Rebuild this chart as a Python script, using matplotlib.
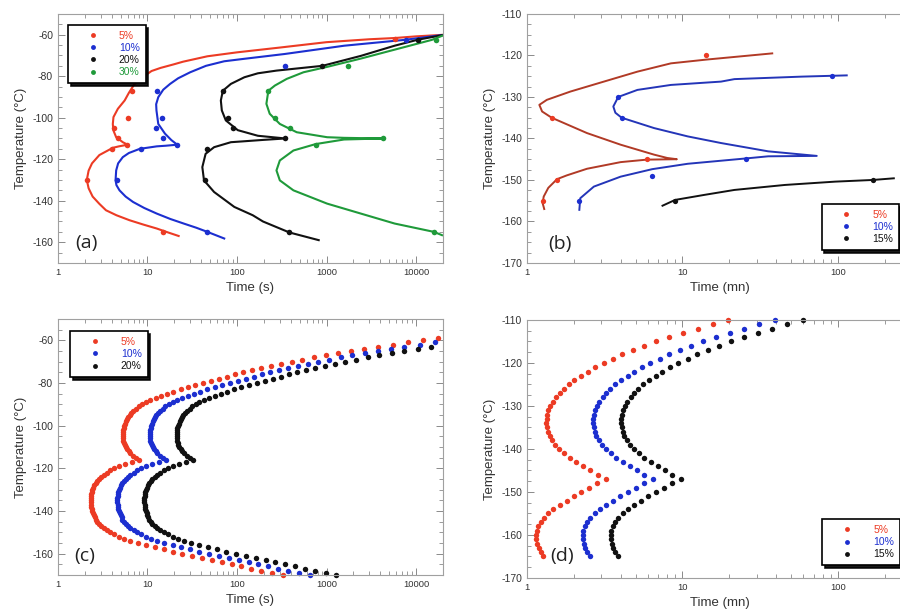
import numpy as np
import matplotlib.pyplot as plt
from matplotlib.ticker import MultipleLocator, LogLocator, NullFormatter, FixedLocator, FixedFormatter
from matplotlib.lines import Line2D

plt.rcParams['font.family'] = ['Liberation Sans', 'DejaVu Sans']
plt.rcParams['axes.unicode_minus'] = False

RED = '#ec3b24'
BLUE = '#1c2fd0'
BLACK = '#111111'
GREEN = '#1f9a3a'
RED_LINE_B = '#b13a26'
BLUE_LINE_B = '#2435b8'

# ---------- (a) measured points, time (s) / temperature (C) ----------
a_red_t = [6.8, 6.07, 4.25, 4.7, 5.96, 4.03, 2.12, 14.8, 5770]
a_red_T = [-87, -100, -105, -110, -113, -115, -130, -155, -62]
a_blue_t = [12.8, 14.4, 12.4, 15.0, 21.5, 8.4, 4.6, 45.8, 344, 7700]
a_blue_T = [-87, -100, -105, -110, -113, -115, -130, -155, -75, -62.5]
a_black_t = [69.5, 79, 91, 347, 46, 44, 385, 901, 10500]
a_black_T = [-87, -100, -105, -110, -115, -130, -155, -75, -62.5]
a_green_t = [224, 265, 387, 4260, 757, 1755, 15800, 16800]
a_green_T = [-87, -100, -105, -110, -113, -75, -155, -62.5]

# ---------- (a) fitted curves ----------
a_red_fit_t = [21000, 10000, 5770, 3000, 1000, 300, 100, 46.7, 25, 19.6, 14, 11.1, 8.5, 7.1, 6.2,
               5.56, 4.67, 4.17, 4.1, 4.15, 4.47, 5.3, 6.0, 4.8, 4.1, 2.9, 2.4, 2.2, 2.1, 2.2,
               2.44, 2.9, 3.44, 4.5, 6.3, 9, 12.7, 17, 22.3]
a_red_fit_T = [-60, -60.8, -61.6, -62.2, -63.6, -66.2, -68.5, -70.4, -73, -74.3, -76, -77.5, -81, -84, -88,
               -91.7, -95.7, -99.7, -103, -106, -109.4, -111.8, -113, -113.8, -114.5, -118, -122, -125.5, -130, -134,
               -138, -141.5, -144.6, -147, -149.4, -151.5, -153.4, -155.3, -157]
a_blue_fit_t = [21000, 7400, 1580, 340, 116, 72, 45, 30, 22, 17.9, 15, 13.2, 12.5, 12.6, 13.2, 15.7,
                18.5, 21.5, 16, 12.7, 8.2, 6.2, 5.3, 4.7, 4.47, 4.4, 4.5, 4.87, 5.7, 6.9, 9.2, 12.7,
                18, 25.4, 35, 46.6, 72]
a_blue_fit_T = [-60, -62.5, -65.3, -69.3, -71.7, -72.8, -75, -78.1, -81, -83.7, -86.5, -90.1, -93.5, -96.5, -103, -107.7,
                -110.8, -113, -113.5, -113.8, -115, -117, -119, -122, -125.4, -130.2, -132.5, -135, -138, -140.6, -143.5, -146.2,
                -148.8, -151, -153, -155, -158.2]
a_black_fit_t = [21000, 10500, 5770, 2420, 901, 276, 171, 121, 85.5, 69.5, 66, 67.7, 75, 102, 171, 347,
                 195, 116, 85.5, 55.5, 44.6, 41, 42.8, 55.5, 93.4, 150, 195, 385, 818]
a_black_fit_T = [-60, -62.4, -65.3, -70.2, -75, -77.3, -78.6, -80.5, -83.7, -87, -91.7, -96.5, -101.3, -106, -108.7, -110,
                 -110.7, -111.4, -111.8, -114.2, -117.4, -123.8, -130.2, -135.8, -143, -147, -150, -155.3, -159]
a_green_fit_t = [21000, 15000, 5770, 2420, 1016, 553, 359, 265, 224, 213, 232, 301, 465, 1016, 1570, 4260,
                 1570, 757, 427, 301, 276, 301, 427, 1016, 2420, 5770, 15800, 19500]
a_green_fit_T = [-60, -62.5, -67.2, -71.5, -75.5, -78.1, -81.3, -84.5, -87, -93.3, -98.1, -103, -107, -109.4, -109.7, -110,
                 -110.5, -112.7, -115.8, -120.6, -125.4, -130.2, -135, -141.4, -146.2, -151, -155, -156.6]

# ---------- (b) measured points, time (mn) ----------
b_red_t = [14.2, 1.44, 5.89, 1.56, 1.26]
b_red_T = [-120, -135, -145, -150, -155]
b_blue_t = [3.86, 4.06, 6.38, 2.17, 25.8, 91.4]
b_blue_T = [-130, -135, -149, -155, -145, -125]
b_black_t = [8.98, 167.6]
b_black_T = [-155, -150]

b_red_fit_t = [37.8, 14.2, 8.43, 5.13, 3.12, 1.9, 1.34, 1.2, 1.25, 1.44, 2.43, 4.0, 6.57, 7.98, 9.2,
               5.89, 4.0, 2.43, 1.8, 1.56, 1.37, 1.28, 1.26, 1.29]
b_red_fit_T = [-119.5, -121, -121.9, -123.9, -126.3, -128.7, -130.7, -131.9, -133.5, -135, -138.7, -141.5, -143.9, -144.7, -145,
               -145.1, -145.7, -147.3, -148.9, -149.8, -151.9, -154, -155.6, -157]
b_blue_fit_t = [114, 58.5, 21.6, 17.7, 8.43, 5.13, 3.86, 3.59, 3.7, 4.06, 6.57, 10.8, 17.7, 35.6, 73.1,
                35.6, 25.8, 13.2, 10.8, 6.38, 4.0, 2.69, 2.2, 2.17]
b_blue_fit_T = [-124.8, -125.1, -125.7, -126.3, -127.1, -128.3, -130, -132.3, -133.8, -135, -137.5, -139.5, -141.1, -143.1, -144.2,
                -144.3, -144.8, -145.8, -146.1, -147.4, -149.2, -151.6, -154.4, -157.2]
b_black_fit_t = [7.44, 8.98, 13.8, 21.6, 45.6, 96, 167.6, 229]
b_black_fit_T = [-156.2, -154.8, -153.6, -152.4, -151.2, -150.4, -150, -149.6]

# ---------- (c) computed curves, one dot per degree, log10 of time (s) ----------
c_red_T = list(range(-170, -58))
c_red_log_t = [
    2.51, 2.39, 2.27, 2.16, 2.05, 1.94, 1.83, 1.72, 1.61, 1.50,
    1.39, 1.28, 1.18, 1.08, 0.98, 0.89, 0.81, 0.74, 0.68, 0.63,
    0.585, 0.545, 0.51, 0.48, 0.455, 0.435, 0.42, 0.41, 0.40, 0.392,
    0.383, 0.376, 0.371, 0.367, 0.365, 0.364, 0.365, 0.367, 0.371, 0.376,
    0.383, 0.393, 0.405, 0.42, 0.435, 0.455, 0.48, 0.51, 0.545, 0.585,
    0.63, 0.68, 0.75, 0.83, 0.91, 0.87, 0.84, 0.81, 0.79, 0.77,
    0.757, 0.745, 0.737, 0.73, 0.727, 0.725, 0.725, 0.727, 0.73, 0.735,
    0.74, 0.75, 0.76, 0.77, 0.785, 0.80, 0.82, 0.84, 0.87, 0.90,
    0.94, 0.98, 1.03, 1.09, 1.15, 1.22, 1.29, 1.37, 1.45, 1.53,
    1.62, 1.71, 1.80, 1.89, 1.98, 2.07, 2.17, 2.27, 2.38, 2.49,
    2.61, 2.73, 2.86, 2.99, 3.13, 3.27, 3.42, 3.57, 3.74, 3.91,
    4.08, 4.25]
c_blue_T = list(range(-170, -60))
c_blue_log_t = [
    2.81, 2.69, 2.57, 2.46, 2.35, 2.24, 2.13, 2.02, 1.91, 1.80,
    1.69, 1.58, 1.48, 1.38, 1.28, 1.19, 1.11, 1.04, 0.98, 0.93,
    0.885, 0.845, 0.81, 0.78, 0.755, 0.735, 0.72, 0.71, 0.70, 0.692,
    0.683, 0.676, 0.671, 0.667, 0.665, 0.664, 0.665, 0.667, 0.671, 0.676,
    0.683, 0.693, 0.705, 0.72, 0.735, 0.755, 0.78, 0.81, 0.845, 0.885,
    0.93, 0.98, 1.05, 1.13, 1.21, 1.17, 1.14, 1.11, 1.09, 1.07,
    1.057, 1.045, 1.037, 1.03, 1.027, 1.025, 1.025, 1.027, 1.03, 1.035,
    1.04, 1.05, 1.06, 1.07, 1.085, 1.10, 1.12, 1.14, 1.17, 1.20,
    1.24, 1.28, 1.33, 1.39, 1.45, 1.52, 1.59, 1.67, 1.75, 1.83,
    1.92, 2.01, 2.10, 2.19, 2.28, 2.37, 2.47, 2.57, 2.68, 2.79,
    2.91, 3.03, 3.16, 3.29, 3.43, 3.57, 3.72, 3.87, 4.04, 4.21]
c_black_T = list(range(-170, -62))
c_black_log_t = [
    3.11, 2.99, 2.87, 2.76, 2.65, 2.54, 2.43, 2.32, 2.21, 2.10,
    1.99, 1.88, 1.78, 1.68, 1.58, 1.49, 1.41, 1.34, 1.28, 1.23,
    1.185, 1.145, 1.11, 1.08, 1.055, 1.035, 1.02, 1.01, 1.00, 0.992,
    0.983, 0.976, 0.971, 0.967, 0.965, 0.964, 0.965, 0.967, 0.971, 0.976,
    0.983, 0.993, 1.005, 1.02, 1.035, 1.055, 1.08, 1.11, 1.145, 1.185,
    1.23, 1.28, 1.35, 1.43, 1.51, 1.47, 1.44, 1.41, 1.39, 1.37,
    1.357, 1.345, 1.337, 1.33, 1.327, 1.325, 1.325, 1.327, 1.33, 1.335,
    1.34, 1.35, 1.36, 1.37, 1.385, 1.40, 1.42, 1.44, 1.47, 1.50,
    1.54, 1.58, 1.63, 1.69, 1.75, 1.82, 1.89, 1.97, 2.05, 2.13,
    2.22, 2.31, 2.40, 2.49, 2.58, 2.67, 2.77, 2.87, 2.98, 3.09,
    3.21, 3.33, 3.46, 3.59, 3.73, 3.87, 4.02, 4.17]

# ---------- (d) computed curves, log10 of time (mn) ----------
d_T = list(range(-165, -109))
d_red_log_t = [
    0.103, 0.088, 0.075, 0.064, 0.058, 0.058, 0.063, 0.073, 0.088, 0.108,
    0.135, 0.17, 0.21, 0.255, 0.30, 0.35, 0.40, 0.45, 0.51, 0.455,
    0.405, 0.36, 0.315, 0.275, 0.238, 0.205, 0.18, 0.16, 0.145, 0.135,
    0.128, 0.125, 0.126, 0.13, 0.138, 0.15, 0.164, 0.186, 0.209, 0.235,
    0.267, 0.304, 0.347, 0.39, 0.44, 0.494, 0.554, 0.614, 0.683, 0.754,
    0.83, 0.914, 1.004, 1.097, 1.194, 1.295]
d_blue_log_t = [
    0.403, 0.388, 0.375, 0.364, 0.358, 0.358, 0.363, 0.373, 0.388, 0.408,
    0.435, 0.47, 0.51, 0.555, 0.60, 0.65, 0.70, 0.75, 0.81, 0.755,
    0.705, 0.66, 0.615, 0.575, 0.538, 0.505, 0.48, 0.46, 0.445, 0.435,
    0.428, 0.425, 0.426, 0.43, 0.438, 0.45, 0.464, 0.486, 0.509, 0.535,
    0.567, 0.604, 0.647, 0.69, 0.74, 0.794, 0.854, 0.914, 0.983, 1.054,
    1.13, 1.214, 1.304, 1.397, 1.494, 1.595]
d_black_log_t = [
    0.583, 0.568, 0.555, 0.544, 0.538, 0.538, 0.543, 0.553, 0.568, 0.588,
    0.615, 0.65, 0.69, 0.735, 0.78, 0.83, 0.88, 0.93, 0.99, 0.935,
    0.885, 0.84, 0.795, 0.755, 0.718, 0.685, 0.66, 0.64, 0.625, 0.615,
    0.608, 0.605, 0.606, 0.61, 0.618, 0.63, 0.644, 0.666, 0.689, 0.715,
    0.747, 0.784, 0.827, 0.87, 0.92, 0.974, 1.034, 1.094, 1.163, 1.234,
    1.31, 1.394, 1.484, 1.577, 1.674, 1.775]


def style(ax, xlim, xticks, ylim, ymajor, yminor, xlabel):
    ax.set_xscale('log')
    ax.set_xlim(*xlim)
    ax.set_ylim(*ylim)
    ax.xaxis.set_major_locator(FixedLocator(xticks))
    ax.xaxis.set_major_formatter(FixedFormatter([str(v) for v in xticks]))
    ax.xaxis.set_minor_locator(LogLocator(base=10, subs=np.arange(2, 10)))
    ax.xaxis.set_minor_formatter(NullFormatter())
    ax.yaxis.set_major_locator(MultipleLocator(ymajor))
    ax.yaxis.set_minor_locator(MultipleLocator(yminor))
    ax.tick_params(which='both', direction='in', top=True, right=True,
                   color='#8a8a8a', labelcolor='#333333')
    ax.tick_params(axis='x', labelsize=6.8)
    ax.tick_params(axis='y', labelsize=7.5)
    ax.tick_params(which='major', length=5, width=0.7)
    ax.tick_params(which='minor', length=3, width=0.6)
    for s in ax.spines.values():
        s.set_color('#a0a0a0')
        s.set_linewidth(0.8)
    ax.set_xlabel(xlabel, fontsize=9.5, color='#333333', labelpad=4)
    ax.set_ylabel('Temperature (°C)', fontsize=9.5, color='#333333', labelpad=4)


def add_legend(ax, colors, labels, loc, anchor):
    handles = [Line2D([], [], ls='none', marker='o', ms=3.5, color=c, mec='none') for c in colors]
    leg = ax.legend(handles, labels, loc=loc, bbox_to_anchor=anchor, bbox_transform=ax.transAxes,
                    borderaxespad=0, fancybox=False, shadow={'color': 'black', 'alpha': 0.9},
                    fontsize=7.5, handlelength=3.6, handletextpad=0.7, borderpad=0.58,
                    labelspacing=0.2, edgecolor='black', framealpha=1)
    leg.get_frame().set_linewidth(1.2)
    for txt, c in zip(leg.get_texts(), colors):
        txt.set_color(c)


def panel_label(ax, x, y, s):
    ax.text(x, y, s, transform=ax.transAxes, fontsize=14, color='#222222',
            ha='left', va='center', family=['Open Sans', 'DejaVu Sans'])


fig = plt.figure(figsize=(9, 6.12), dpi=100)
ax_a = fig.add_axes([0.0644, 0.5703, 0.4278, 0.4069])
ax_b = fig.add_axes([0.5856, 0.5703, 0.4278, 0.4069])
ax_c = fig.add_axes([0.0644, 0.0605, 0.4278, 0.4183])
ax_d = fig.add_axes([0.5856, 0.0556, 0.4278, 0.4216])

# (a)
for t, T, c in [(a_red_fit_t, a_red_fit_T, RED), (a_blue_fit_t, a_blue_fit_T, BLUE),
                (a_black_fit_t, a_black_fit_T, BLACK), (a_green_fit_t, a_green_fit_T, GREEN)]:
    ax_a.plot(t, T, '-', color=c, lw=1.5)
for t, T, c in [(a_red_t, a_red_T, RED), (a_blue_t, a_blue_T, BLUE),
                (a_black_t, a_black_T, BLACK), (a_green_t, a_green_T, GREEN)]:
    ax_a.plot(t, T, 'o', color=c, ms=4, mec='none')
style(ax_a, (1, 20000), [1, 10, 100, 1000, 10000], (-170, -50), 20, 5, 'Time (s)')
add_legend(ax_a, [RED, BLUE, BLACK, GREEN], ['5%', '10%', '20%', '30%'], 'upper left', (0.026, 0.956))
panel_label(ax_a, 0.045, 0.08, '(a)')

# (b)
for t, T, c in [(b_red_fit_t, b_red_fit_T, RED_LINE_B), (b_blue_fit_t, b_blue_fit_T, BLUE_LINE_B),
                (b_black_fit_t, b_black_fit_T, BLACK)]:
    ax_b.plot(t, T, '-', color=c, lw=1.4)
for t, T, c in [(b_red_t, b_red_T, RED), (b_blue_t, b_blue_T, BLUE), (b_black_t, b_black_T, BLACK)]:
    ax_b.plot(t, T, 'o', color=c, ms=3.8, mec='none')
style(ax_b, (1, 300), [1, 10, 100], (-170, -110), 10, 2.5, 'Time (mn)')
add_legend(ax_b, [RED, BLUE, BLACK], ['5%', '10%', '15%'], 'lower left', (0.765, 0.052))
panel_label(ax_b, 0.055, 0.076, '(b)')

# (c)
for lt, T, c in [(c_red_log_t, c_red_T, RED), (c_blue_log_t, c_blue_T, BLUE), (c_black_log_t, c_black_T, BLACK)]:
    ax_c.plot(10 ** np.array(lt), T, 'o', color=c, ms=3.9, mec='none', clip_on=False)
style(ax_c, (1, 20000), [1, 10, 100, 1000, 10000], (-170, -50), 20, 5, 'Time (s)')
add_legend(ax_c, [RED, BLUE, BLACK], ['5%', '10%', '20%'], 'upper left', (0.031, 0.953))
panel_label(ax_c, 0.042, 0.074, '(c)')

# (d)
for lt, c in [(d_red_log_t, RED), (d_blue_log_t, BLUE), (d_black_log_t, BLACK)]:
    ax_d.plot(10 ** np.array(lt), d_T, 'o', color=c, ms=3.9, mec='none', clip_on=False)
style(ax_d, (1, 300), [1, 10, 100], (-170, -110), 10, 2.5, 'Time (mn)')
add_legend(ax_d, [RED, BLUE, BLACK], ['5%', '10%', '15%'], 'lower left', (0.767, 0.049))
panel_label(ax_d, 0.06, 0.085, '(d)')

fig.savefig('out.png', dpi=100)
